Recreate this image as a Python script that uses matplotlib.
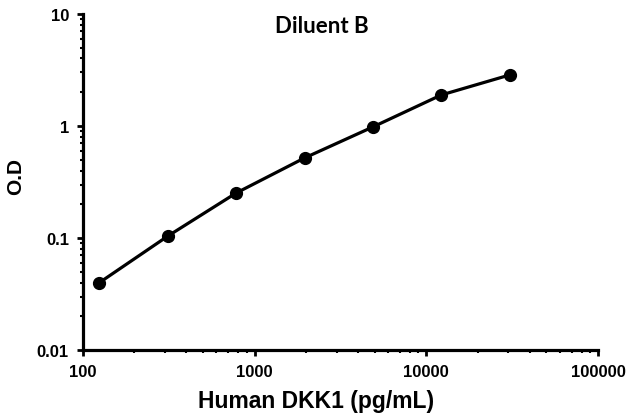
import numpy as np
import matplotlib.pyplot as plt
from matplotlib.ticker import LogLocator, NullFormatter, FixedLocator, FixedFormatter

# standard curve, Diluent B
conc = [125, 312.5, 781, 1953, 4883, 12207, 30518]      # pg/mL
od = [0.040, 0.104, 0.252, 0.518, 0.98, 1.89, 2.85]

x_ticks = [100, 1000, 10000, 100000]
x_labels = ['100', '1000', '10000', '100000']
y_ticks = [0.01, 0.1, 1, 10]
y_labels = ['0.01', '0.1', '1', '10']

plt.rcParams['font.family'] = ['Liberation Sans', 'DejaVu Sans']

fig = plt.figure(figsize=(6.27, 4.14), dpi=100)
ax = fig.add_axes([0.132, 0.152, 0.822, 0.812])

ax.plot(conc, od, '-o', color='black', lw=2.3, markersize=8.5)

ax.set_xscale('log')
ax.set_yscale('log')
ax.set_xlim(100, 100000)
ax.set_ylim(0.01, 10)

ax.xaxis.set_major_locator(FixedLocator(x_ticks))
ax.xaxis.set_major_formatter(FixedFormatter(x_labels))
ax.yaxis.set_major_locator(FixedLocator(y_ticks))
ax.yaxis.set_major_formatter(FixedFormatter(y_labels))
ax.xaxis.set_minor_locator(LogLocator(base=10, subs=np.arange(2, 10)))
ax.yaxis.set_minor_locator(LogLocator(base=10, subs=np.arange(2, 10)))
ax.xaxis.set_minor_formatter(NullFormatter())
ax.yaxis.set_minor_formatter(NullFormatter())

for s in ['top', 'right']:
    ax.spines[s].set_visible(False)
for s in ['left', 'bottom']:
    ax.spines[s].set_linewidth(2.3)

ax.tick_params(which='major', direction='out', length=4, width=2, pad=6)
ax.tick_params(which='minor', direction='out', length=2.5, width=1.5)
for lab in ax.get_xticklabels() + ax.get_yticklabels():
    lab.set_fontweight('bold')
    lab.set_fontsize(12)

ax.set_xlabel('Human DKK1 (pg/mL)', fontsize=16.5, fontweight='bold')
ax.xaxis.set_label_coords(0.452, -0.117)
ax.set_ylabel('O.D', fontsize=15, fontweight='bold')
ax.yaxis.set_label_coords(-0.112, 0.518)
fig.text(0.513, 0.935, 'Diluent B', ha='center', va='center',
         fontsize=16, fontweight='bold', family=['Lato', 'DejaVu Sans'])

fig.savefig('out.png', dpi=100)
